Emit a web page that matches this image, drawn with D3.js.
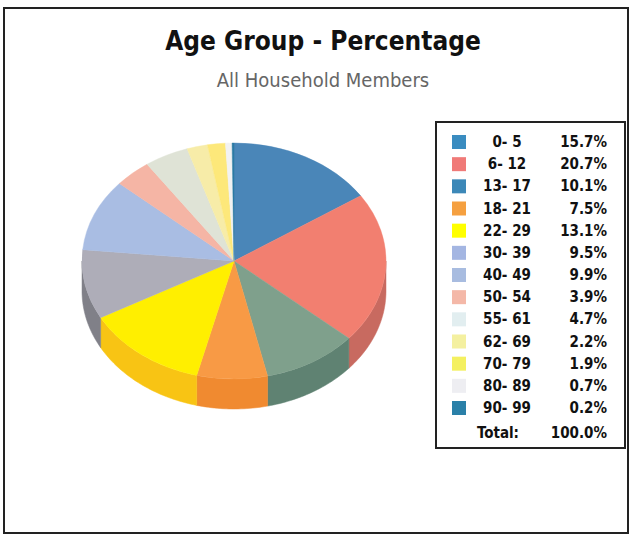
<!DOCTYPE html>
<html lang="en">
<head>
<meta charset="utf-8">
<style>
    body { margin: 0; background: #fff; }
    svg { display: block; }
</style>
</head>
<body>
<svg id="chart"></svg>
<script src="https://cdn.jsdelivr.net/npm/d3@7/dist/d3.min.js"></script>
<script>

    // data
    var ageGroups = ["0- 5", "6- 12", "13- 17", "18- 21", "22- 29", "30- 39", "40- 49",
                     "50- 54", "55- 61", "62- 69", "70- 79", "80- 89", "90- 99"];
    var percents = [15.7, 20.7, 10.1, 7.5, 13.1, 9.5, 9.9, 3.9, 4.7, 2.2, 1.9, 0.7, 0.2];
    var sliceColors = ["#4a86b8", "#f27f70", "#7fa08c", "#f89a45", "#ffef00", "#aeadb8", "#a9bde3",
                       "#f5b5a5", "#dfe3d6", "#f7eca8", "#fde87a", "#f2f2f2", "#2c7aa4"];
    var sideColors = ["#35638a", "#c86a60", "#5f8272", "#f08a30", "#f8c414", "#808088", "#8090b0",
                      "#d09080", "#b0b4a8", "#d0c480", "#d8c050", "#c8c8c8", "#1e5a7a"];
    var swatchColors = ["#3a8cc0", "#f07a78", "#3c88b8", "#f5a040", "#ffff00", "#a4b6e2", "#a8bce0",
                        "#f4b8a8", "#e2eef0", "#f4f0a0", "#f4f060", "#eeeef2", "#2a80a8"];
    var totalLabel = "100.0%";

    var width = 631, height = 535;
    var svg = d3.select("#chart").attr("width", width).attr("height", height);

    // outer frame
    svg.append("rect")
        .attr("x", 4).attr("y", 8)
        .attr("width", 624).attr("height", 525)
        .attr("fill", "none")
        .attr("stroke", "#222")
        .attr("stroke-width", 2);

    // titles
    svg.append("text")
        .attr("x", 323).attr("y", 50)
        .attr("text-anchor", "middle")
        .attr("font-family", "'DejaVu Sans Condensed', 'DejaVu Sans', sans-serif")
        .attr("font-weight", "bold")
        .attr("font-size", "26px")
        .attr("fill", "#111")
        .text("Age Group - Percentage");
    svg.append("text")
        .attr("x", 323).attr("y", 87)
        .attr("text-anchor", "middle")
        .attr("font-family", "'DejaVu Sans Condensed', 'DejaVu Sans', sans-serif")
        .attr("font-size", "20px")
        .attr("fill", "#666")
        .text("All Household Members");

    // pie geometry (tilted ellipse)
    var cx = 234, cy = 261, rx = 152, ry = 118, depth = 30;
    var pie = d3.pie().sort(null).value(function (d) { return d; });
    var slices = pie(percents);

    function px(a) { return cx + rx * Math.sin(a); }
    function py(a) { return cy - ry * Math.cos(a); }

    var g = svg.append("g");

    // side walls: only the front half (pi/2 .. 3pi/2) is visible
    var line = d3.line().x(function (d) { return d[0]; }).y(function (d) { return d[1]; });
    slices.forEach(function (s, i) {
        var a0 = Math.max(s.startAngle, Math.PI / 2);
        var a1 = Math.min(s.endAngle, Math.PI * 1.5);
        if (a1 <= a0) return;
        var n = Math.max(2, Math.ceil((a1 - a0) / 0.02));
        var top = d3.range(n + 1).map(function (k) {
            var a = a0 + (a1 - a0) * k / n;
            return [px(a), py(a)];
        });
        var bottom = top.slice().reverse().map(function (p) { return [p[0], p[1] + depth]; });
        g.append("path")
            .attr("d", line(top.concat(bottom)) + "Z")
            .attr("fill", sideColors[i])
            .attr("stroke", sideColors[i])
            .attr("stroke-width", 0.5);
    });

    // top faces
    var arc = d3.arc().innerRadius(0).outerRadius(rx);
    g.append("g")
        .attr("transform", "translate(" + cx + "," + cy + ") scale(1," + (ry / rx) + ")")
        .selectAll("path")
        .data(slices)
        .enter()
        .append("path")
        .attr("d", arc)
        .attr("fill", function (d, i) { return sliceColors[i]; })
        .attr("stroke", function (d, i) { return sliceColors[i]; })
        .attr("stroke-width", 0.5);

    // legend
    var lx = 436, ly = 122, lw = 189, lh = 326;
    var legend = svg.append("g");
    legend.append("rect")
        .attr("x", lx).attr("y", ly)
        .attr("width", lw).attr("height", lh)
        .attr("fill", "#fff")
        .attr("stroke", "#222")
        .attr("stroke-width", 2);

    var rowY = d3.scalePoint().domain(d3.range(ageGroups.length)).range([142, 408]);
    var font = "'DejaVu Sans Condensed', 'DejaVu Sans', sans-serif";

    var rows = legend.selectAll("g.row")
        .data(ageGroups)
        .enter()
        .append("g")
        .attr("class", "row")
        .attr("transform", function (d, i) { return "translate(0," + rowY(i) + ")"; });
    rows.append("rect")
        .attr("x", 452).attr("y", -7)
        .attr("width", 14).attr("height", 14)
        .attr("fill", function (d, i) { return swatchColors[i]; });
    rows.append("text")
        .attr("x", 507).attr("y", 5)
        .attr("text-anchor", "middle")
        .attr("font-family", font)
        .attr("font-weight", "bold")
        .attr("font-size", "15px")
        .attr("fill", "#111")
        .text(function (d) { return d; });
    rows.append("text")
        .attr("x", 607).attr("y", 5)
        .attr("text-anchor", "end")
        .attr("font-family", font)
        .attr("font-weight", "bold")
        .attr("font-size", "15px")
        .attr("fill", "#111")
        .text(function (d, i) { return percents[i].toFixed(1) + "%"; });

    legend.append("text")
        .attr("x", 498).attr("y", 438)
        .attr("text-anchor", "middle")
        .attr("font-family", font)
        .attr("font-weight", "bold")
        .attr("font-size", "15px")
        .attr("fill", "#111")
        .text("Total:");
    legend.append("text")
        .attr("x", 607).attr("y", 438)
        .attr("text-anchor", "end")
        .attr("font-family", font)
        .attr("font-weight", "bold")
        .attr("font-size", "15px")
        .attr("fill", "#111")
        .text(totalLabel);

</script>
</body>
</html>
